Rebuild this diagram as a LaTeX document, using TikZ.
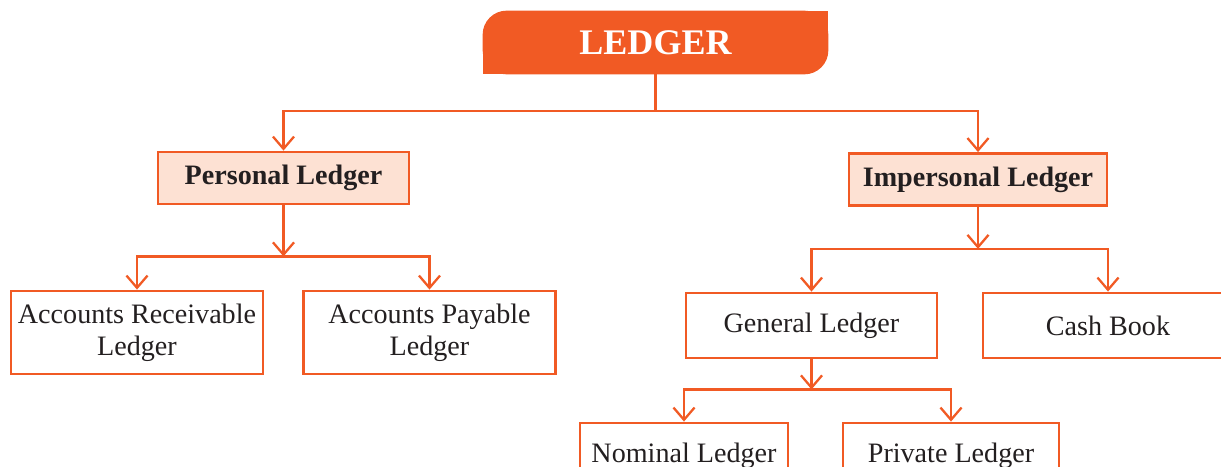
\documentclass[tikz,border=0pt]{standalone}
\usepackage{fontspec}
\setmainfont{Liberation Serif}
\usepackage{xcolor}
\usetikzlibrary{arrows.meta,positioning,calc,backgrounds}
\definecolor{ledgerorange}{HTML}{F15A24}
\definecolor{ledgerpeach}{HTML}{FDE1D3}
\definecolor{ledgertext}{HTML}{231F20}

\begin{document}
\begin{tikzpicture}[
    >={Straight Barb[length=7pt,width=12pt]},
    head/.style={text=white, font=\bfseries\fontsize{20.5}{24}\selectfont, minimum width=6.9cm, minimum height=1.26cm, inner sep=0pt},
    main/.style={draw=ledgerorange, line width=1.6pt, fill=ledgerpeach, text=ledgertext, font=\bfseries\fontsize{16}{18}\selectfont, minimum height=1.04cm, inner sep=0pt},
    sub/.style={draw=ledgerorange, line width=1.6pt, fill=white, text=ledgertext, font=\fontsize{16}{18}\selectfont, align=center, minimum height=1.3cm, inner sep=0pt},
    link/.style={draw=ledgerorange, line width=1.3pt}
]
\useasboundingbox (0,0) rectangle (24.42,-9.32);

\node[head] (ledger) at (13.11,-0.85) {LEDGER};
\begin{scope}[on background layer]
\fill[ledgerorange, rounded corners=0.48cm] (ledger.south west) rectangle (ledger.north east);
\fill[ledgerorange] (ledger.north east) rectangle (ledger.center);
\fill[ledgerorange] (ledger.south west) rectangle (ledger.center);
\end{scope}

\node[main, minimum width=5.02cm] (personal) at (5.67,-3.56) {Personal Ledger};
\node[main, minimum width=5.16cm] (impersonal) at (19.56,-3.59) {Impersonal Ledger};

\node[sub, minimum width=5.04cm, minimum height=1.66cm] (accrec) at (2.74,-6.65) {Accounts Receivable\\Ledger};
\node[sub, minimum width=5.04cm, minimum height=1.66cm] (accpay) at (8.59,-6.65) {Accounts Payable\\Ledger};
\node[sub, minimum width=5.02cm] (general) at (16.23,-6.51) {General Ledger};
\node[sub, minimum width=5.0cm] (cash) at (22.16,-6.51) {Cash Book};
\node[sub, minimum width=4.16cm] (nominal) at (13.68,-9.11) {Nominal Ledger};
\node[sub, minimum width=4.32cm] (private) at (19.02,-9.11) {Private Ledger};

\coordinate (lj) at ($(ledger.south)+(0,-0.73)$);
\draw[link] (ledger.south) -- (lj);
\draw[link,->] (lj) -| (personal.north);
\draw[link,->] (lj) -| (impersonal.north);

\coordinate (pj) at ($(personal.south)+(0,-1.02)$);
\draw[link,->] (personal.south) -- (pj);
\draw[link,->] (pj) -| (accrec.north);
\draw[link,->] (pj) -| (accpay.north);

\coordinate (ij) at ($(impersonal.south)+(0,-0.84)$);
\draw[link,->] (impersonal.south) -- (ij);
\draw[link,->] (ij) -| (general.north);
\draw[link,->] (ij) -| (cash.north);

\coordinate (gj) at ($(general.south)+(0,-0.6)$);
\draw[link,->] (general.south) -- (gj);
\draw[link,->] (gj) -| (nominal.north);
\draw[link,->] (gj) -| (private.north);
\end{tikzpicture}
\end{document}
